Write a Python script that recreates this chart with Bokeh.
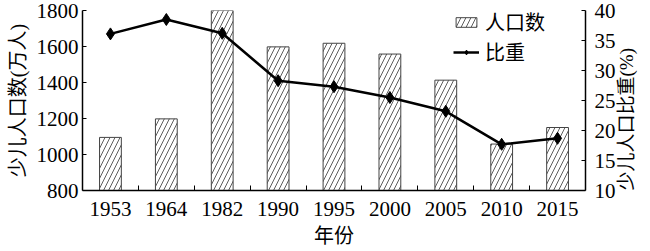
import math
from bokeh.plotting import figure
from bokeh.models import (Range1d, LinearAxis, FixedTicker,
                          CustomJSTickFormatter, Legend, LegendItem, ColumnDataSource)
from bokeh.embed import file_html
from bokeh.resources import INLINE

# ---- data ----
years = ["1953", "1964", "1982", "1990", "1995", "2000", "2005", "2010", "2015"]
population = [1095, 1198, 1800, 1598, 1618, 1558, 1413, 1058, 1150]   # 少儿人口数 (万人)
ratio = [36.1, 38.5, 36.2, 28.3, 27.3, 25.5, 23.2, 17.7, 18.7]         # 少儿人口比重 (%)
left_ticks = [800, 1000, 1200, 1400, 1600, 1800]
right_ticks = [10, 15, 20, 25, 30, 35, 40]

FONT = "'Liberation Serif', 'Noto Sans CJK SC'"

xpos = [i + 0.5 for i in range(len(years))]
src = ColumnDataSource(dict(x=xpos, year=years, pop=population, ratio=ratio))

p = figure(width=650, height=251,
           x_range=Range1d(0, len(years)), y_range=Range1d(left_ticks[0], left_ticks[-1]),
           output_backend="svg", toolbar_location=None,
           min_border_left=82, min_border_right=63, min_border_top=10, min_border_bottom=61)
p.extra_y_ranges = {"r": Range1d(right_ticks[0], right_ticks[-1])}
p.outline_line_color = None
p.xgrid.visible = False
p.ygrid.visible = False
p.background_fill_color = "white"
p.border_fill_color = "white"

bars = p.vbar(x="x", top="pop", width=0.39, source=src,
              fill_color="white", line_color="#444444", line_width=1,
              hatch_pattern="/", hatch_color="#333333", hatch_weight=0.8, hatch_scale=10)
line = p.line("x", "ratio", source=src, y_range_name="r", line_color="black", line_width=2.5)
pts = p.scatter("x", "ratio", source=src, y_range_name="r", marker="diamond", size=12,
                fill_color="black", line_color="black")

# ---- axes ----
xa = p.xaxis[0]
xa.ticker = FixedTicker(ticks=xpos, minor_ticks=list(range(1, len(years))))
xa.formatter = CustomJSTickFormatter(args=dict(labels=years), code="return labels[Math.floor(tick)]")
xa.major_tick_in = 0
xa.major_tick_out = 0
xa.minor_tick_in = 5
xa.minor_tick_out = 0
xa.minor_tick_line_color = "black"
xa.major_label_standoff = 11
xa.axis_label = "年份"
xa.axis_label_standoff = 6

ya = p.yaxis[0]
ya.ticker = FixedTicker(ticks=left_ticks)
ya.major_tick_in = 4
ya.major_tick_out = 0
ya.minor_tick_line_color = None
ya.major_label_standoff = 4
ya.axis_label = "少儿人口数(万人)"
ya.axis_label_standoff = 5

ra = LinearAxis(y_range_name="r", ticker=FixedTicker(ticks=right_ticks))
ra.major_tick_in = 4
ra.major_tick_out = 0
ra.minor_tick_line_color = None
ra.major_label_standoff = 9
ra.axis_label = "少儿人口比重(%)"
ra.axis_label_standoff = 8
ra.axis_label_orientation = math.pi / 2
try:
    ra.axis_label_align = "start"
except Exception:
    pass
p.add_layout(ra, "right")

for ax in (xa, ya, ra):
    ax.major_label_text_font = FONT
    ax.major_label_text_font_size = "21px"
    ax.major_label_text_color = "black"
    ax.axis_label_text_font = FONT
    ax.axis_label_text_font_size = "20px"
    ax.axis_label_text_font_style = "normal"
    ax.axis_label_text_color = "black"
    ax.major_tick_line_color = "black"
    ax.axis_line_color = "black"
    ax.axis_line_width = 1.5
ra.axis_label_text_font_size = "19px"

# ---- legend ----
legend = Legend(items=[LegendItem(label="人口数", renderers=[bars]),
                       LegendItem(label="比重", renderers=[line, pts])],
                location=(371, 124), orientation="vertical",
                border_line_color=None, background_fill_alpha=0,
                padding=0, margin=0, spacing=1,
                glyph_width=26, glyph_height=12, label_standoff=6,
                label_text_font=FONT, label_text_font_size="20px", label_text_color="black")
p.add_layout(legend)

open("out.html", "w").write(file_html(p, INLINE))
